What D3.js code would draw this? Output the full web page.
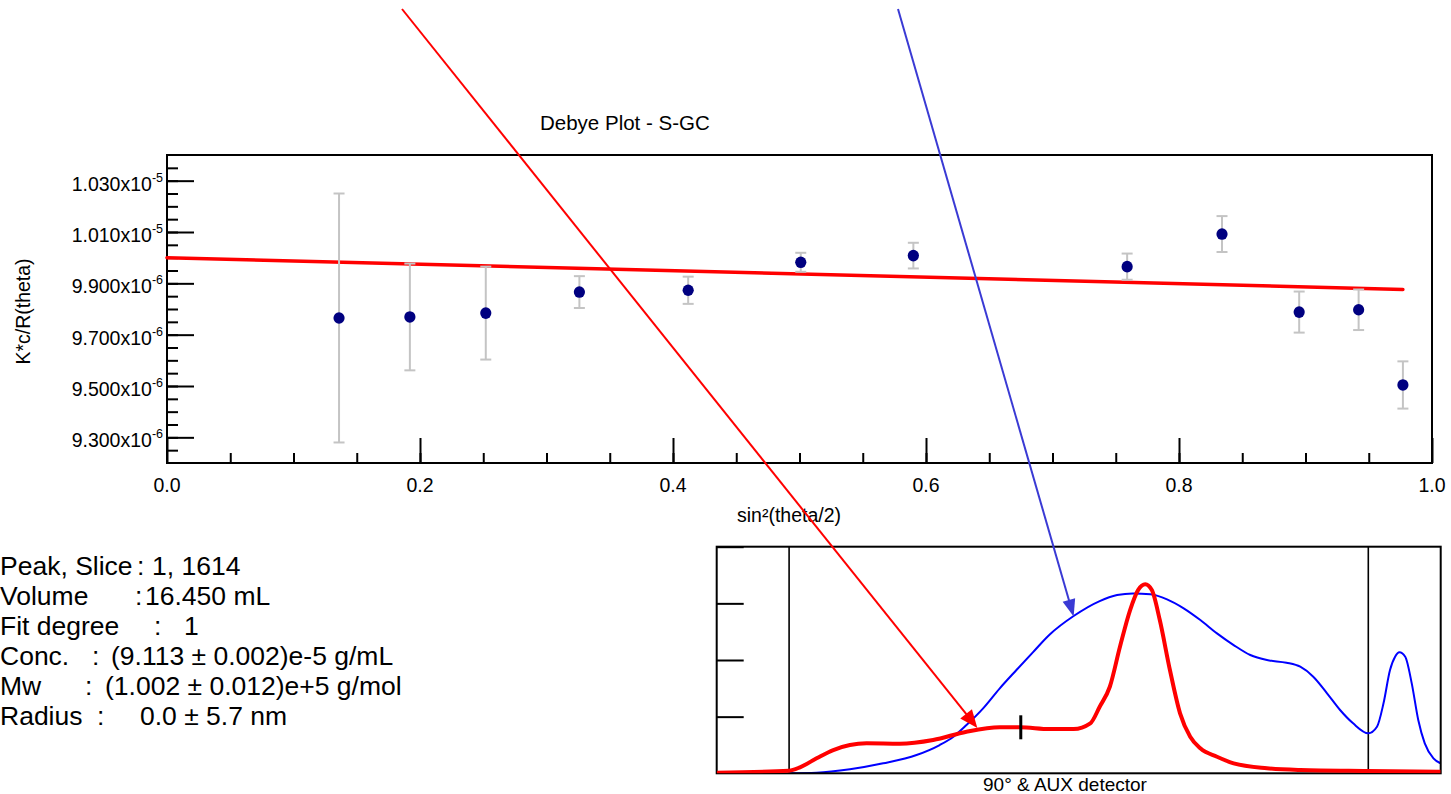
<!DOCTYPE html>
<html>
<head>
<meta charset="utf-8">
<script src="https://cdn.jsdelivr.net/npm/d3@7"></script>
<style>
  html, body { margin: 0; padding: 0; background: #fff; }
  svg { display: block; font-family: "Liberation Sans", Arial, Helvetica, sans-serif; }
</style>
</head>
<body>
<svg id="chart" width="1451" height="794"></svg>
<script>
// ---- Debye plot data: sin²(θ/2) against K*c/R(θ) ----
const sinSq  = [0.136, 0.192, 0.252, 0.326, 0.412, 0.501, 0.590, 0.759, 0.834, 0.895, 0.942, 0.977];
const kcR    = [9.765e-6, 9.769e-6, 9.784e-6, 9.866e-6, 9.873e-6, 9.982e-6, 10.008e-6, 9.965e-6, 10.092e-6, 9.788e-6, 9.797e-6, 9.504e-6];
const kcRErr = [0.485e-6, 0.208e-6, 0.181e-6, 0.062e-6, 0.053e-6, 0.037e-6, 0.050e-6, 0.051e-6, 0.070e-6, 0.080e-6, 0.079e-6, 0.092e-6];

// first-degree fit, evaluated at both ends of the angle range
const fitX = [0, 0.977];
const fitY = [10.000e-6, 9.876e-6];

const yTickValues = [9.3e-6, 9.5e-6, 9.7e-6, 9.9e-6, 1.01e-5, 1.03e-5];
const xTickValues = [0, 0.2, 0.4, 0.6, 0.8, 1.0];

// ---- chromatogram (90° light scattering and AUX detector) ----
const lsVolume = [12.25, 13.25, 13.40, 13.63, 13.86, 14.09, 14.32, 14.78, 15.24, 15.70, 16.16, 16.44, 16.85, 17.18,
                  17.41, 17.54, 17.68, 17.82, 17.96, 18.07, 18.17, 18.26, 18.37, 18.51, 18.65, 18.79, 18.93, 19.16,
                  19.39, 19.85, 20.31, 21.23, 22.25];
const lsSignal = [0.010, 0.046, 0.106, 0.265, 0.411, 0.499, 0.529, 0.522, 0.588, 0.734, 0.812, 0.812, 0.782, 0.782,
                  0.882, 1.175, 1.528, 2.234, 2.882, 3.234, 3.335, 3.234, 2.705, 1.823, 1.059, 0.646, 0.441, 0.293,
                  0.176, 0.088, 0.058, 0.041, 0.028];

const auxVolume = [13.25, 13.63, 14.09, 14.55, 15.01, 15.33, 15.52, 15.70, 15.93, 16.16, 16.39, 16.62, 16.85, 17.18,
                   17.54, 17.78, 18.00, 18.24, 18.47, 18.70, 18.93, 19.16, 19.39, 19.62, 19.85, 20.12, 20.31, 20.49,
                   20.68, 20.86, 21.04, 21.25, 21.37, 21.46, 21.55, 21.62, 21.68, 21.76, 21.85, 21.94, 22.03, 22.15, 22.25];
const auxSignal = [0.000, 0.010, 0.071, 0.176, 0.323, 0.499, 0.646, 0.852, 1.147, 1.500, 1.823, 2.140, 2.450, 2.776,
                   3.040, 3.146, 3.176, 3.159, 3.070, 2.912, 2.705, 2.470, 2.264, 2.088, 1.999, 1.952, 1.881, 1.705,
                   1.412, 1.117, 0.882, 0.706, 0.822, 1.235, 1.823, 2.058, 2.135, 2.058, 1.588, 0.941, 0.529, 0.265, 0.176];

const peakLimits  = [13.25, 21.25];
const sliceVolume = 16.45;
const sliceSignal = 0.812;
const insetTicks  = [1, 2, 3, 4];

// ---- results panel ----
const infoLabels = ["Peak, Slice", "Volume", "Fit degree", "Conc.", "Mw", "Radius"];
const infoValues = ["1, 1614", "16.450 mL", "1", "(9.113 \u00B1 0.002)e-5 g/mL", "(1.002 \u00B1 0.012)e+5 g/mol", "0.0 \u00B1 5.7 nm"];
const infoColonX = [137, 135, 154, 92, 85, 97];
const infoValueX = [152, 145, 184, 111, 105, 140];

const svg = d3.select("#chart");
const FONT = 19.5;

// ================= Debye plot =================
const plot = { left: 167, right: 1432, top: 155, bottom: 463 };
const x = d3.scaleLinear().domain([0, 1]).range([plot.left, plot.right]);
const y = d3.scaleLinear().domain([9.2e-6, 10.4e-6]).range([plot.bottom, plot.top]);

const main = svg.append("g");

// minor ticks
const yMinor = d3.range(1, 24).map(i => 9.2e-6 + i * 0.05e-6);
const xMinor = d3.range(1, 20).map(i => i * 0.05);

function styleAxis(g) {
  g.select(".domain").remove();
  g.selectAll(".tick line").attr("stroke", "#000").attr("stroke-width", 2);
  g.selectAll(".tick text").remove();
}

main.append("g").attr("transform", `translate(${plot.left},0)`)
  .call(d3.axisLeft(y).tickValues(yMinor).tickSize(-11).tickFormat(""))
  .call(styleAxis);
main.append("g").attr("transform", `translate(${plot.left},0)`)
  .call(d3.axisLeft(y).tickValues(yTickValues).tickSize(-27).tickFormat(""))
  .call(styleAxis);
main.append("g").attr("transform", `translate(0,${plot.bottom})`)
  .call(d3.axisBottom(x).tickValues(xMinor).tickSize(-10).tickFormat(""))
  .call(styleAxis);
main.append("g").attr("transform", `translate(0,${plot.bottom})`)
  .call(d3.axisBottom(x).tickValues(xTickValues).tickSize(-25).tickFormat(""))
  .call(styleAxis);

// frame
main.append("rect")
  .attr("x", plot.left).attr("y", plot.top)
  .attr("width", plot.right - plot.left).attr("height", plot.bottom - plot.top)
  .attr("fill", "none").attr("stroke", "#000").attr("stroke-width", 2);

// y tick labels in the "m.mmmx10^e" form
const yLabels = main.append("g").attr("font-size", FONT).attr("fill", "#000");
yTickValues.forEach(v => {
  const e = Math.floor(Math.log10(v) + 1e-9);
  const m = (v / Math.pow(10, e)).toFixed(3);
  const t = yLabels.append("text")
    .attr("x", plot.left - 4).attr("y", y(v) + 10)
    .attr("text-anchor", "end");
  t.append("tspan").text(m + "x10");
  t.append("tspan").attr("dy", -9).attr("font-size", 12.5).text(String(e));
});

// x tick labels
main.append("g").attr("font-size", FONT)
  .selectAll("text").data(xTickValues).join("text")
  .attr("x", d => x(d)).attr("y", 491.5)
  .attr("text-anchor", "middle")
  .text(d => d.toFixed(1));

// axis titles and chart title
main.append("text").attr("x", 737).attr("y", 521.5).attr("font-size", FONT)
  .text("sin\u00B2(theta/2)");
main.append("text").attr("font-size", FONT).attr("text-anchor", "middle")
  .attr("transform", "translate(29.5,311.5) rotate(-90)")
  .text("K*c/R(theta)");
main.append("text").attr("x", 540).attr("y", 129.5).attr("font-size", 20.5)
  .text("Debye Plot - S-GC");

// fit line
main.append("line")
  .attr("x1", x(fitX[0])).attr("y1", y(fitY[0]))
  .attr("x2", x(fitX[1])).attr("y2", y(fitY[1]))
  .attr("stroke", "#ff0000").attr("stroke-width", 3.5).attr("stroke-linecap", "round");

// error bars
const pts = sinSq.map((s, i) => ({ s, v: kcR[i], e: kcRErr[i] }));
const eb = main.append("g").attr("stroke", "#c4c4c4").attr("stroke-width", 2);
pts.forEach(p => {
  const xp = x(p.s);
  eb.append("line").attr("x1", xp).attr("x2", xp).attr("y1", y(p.v + p.e)).attr("y2", y(p.v - p.e));
  eb.append("line").attr("x1", xp - 5.5).attr("x2", xp + 5.5).attr("y1", y(p.v + p.e)).attr("y2", y(p.v + p.e));
  eb.append("line").attr("x1", xp - 5.5).attr("x2", xp + 5.5).attr("y1", y(p.v - p.e)).attr("y2", y(p.v - p.e));
});

// data points
main.append("g").selectAll("ellipse").data(pts).join("ellipse")
  .attr("cx", d => x(d.s)).attr("cy", d => y(d.v))
  .attr("rx", 5.6).attr("ry", 5.8)
  .attr("fill", "#000080");

// ================= results text =================
const info = svg.append("g").attr("font-size", 26.5).attr("fill", "#000");
infoLabels.forEach((lab, i) => {
  const by = 575 + 30 * i;
  info.append("text").attr("x", 0).attr("y", by).text(lab);
  info.append("text").attr("x", infoColonX[i]).attr("y", by).text(":");
  info.append("text").attr("x", infoValueX[i]).attr("y", by).text(infoValues[i]);
});

// ================= chromatogram inset =================
const inset = { left: 716.7, right: 1440.7, top: 546.7, bottom: 773.3 };
const xi = d3.scaleLinear().domain([12.25, 22.25]).range([inset.left, inset.right]);
const yi = d3.scaleLinear().domain([0, 4]).range([inset.bottom, inset.top]);

const ig = svg.append("g");
ig.append("defs").append("clipPath").attr("id", "insetClip")
  .append("rect").attr("x", inset.left).attr("y", inset.top - 2)
  .attr("width", inset.right - inset.left).attr("height", inset.bottom - inset.top + 2);

ig.append("g").attr("transform", `translate(${inset.left},0)`)
  .call(d3.axisLeft(yi).tickValues(insetTicks).tickSize(-27).tickFormat(""))
  .call(styleAxis);

// peak limits
ig.append("g").selectAll("line").data(peakLimits).join("line")
  .attr("x1", d => xi(d)).attr("x2", d => xi(d))
  .attr("y1", inset.top).attr("y2", inset.bottom)
  .attr("stroke", "#000").attr("stroke-width", 1.6);

const lineGen = d3.line().curve(d3.curveMonotoneX);

ig.append("path")
  .attr("d", lineGen(auxVolume.map((v, i) => [xi(v), yi(auxSignal[i])])))
  .attr("fill", "none").attr("stroke", "#0000ff").attr("stroke-width", 2)
  .attr("clip-path", "url(#insetClip)");

ig.append("rect")
  .attr("x", inset.left).attr("y", inset.top)
  .attr("width", inset.right - inset.left).attr("height", inset.bottom - inset.top)
  .attr("fill", "none").attr("stroke", "#000").attr("stroke-width", 2);

ig.append("path")
  .attr("d", lineGen(lsVolume.map((v, i) => [xi(v), yi(lsSignal[i])])))
  .attr("fill", "none").attr("stroke", "#ff0000").attr("stroke-width", 4)
  .attr("stroke-linejoin", "round")
  .attr("clip-path", "url(#insetClip)");

// current slice marker
ig.append("line")
  .attr("x1", xi(sliceVolume)).attr("x2", xi(sliceVolume))
  .attr("y1", yi(sliceSignal) - 12).attr("y2", yi(sliceSignal) + 12)
  .attr("stroke", "#000").attr("stroke-width", 3);

ig.append("text").attr("x", 1065).attr("y", 791).attr("font-size", 19)
  .attr("text-anchor", "middle").text("90\u00B0 & AUX detector");

// ================= pointer arrows =================
const arrows = [
  { from: [402, 9], to: [15.85, 0.80], color: "#ff0000", width: 2, len: 18, half: 7.5 },
  { from: [898, 9], to: [17.18, 2.77], color: "#3a3ad4", width: 2, len: 17, half: 6.5 }
];
const ag = svg.append("g");
arrows.forEach(a => {
  const tx = xi(a.to[0]), ty = yi(a.to[1]);
  const dx = tx - a.from[0], dy = ty - a.from[1];
  const L = Math.hypot(dx, dy), ux = dx / L, uy = dy / L;
  const bx = tx - ux * a.len, by = ty - uy * a.len;
  ag.append("line")
    .attr("x1", a.from[0]).attr("y1", a.from[1]).attr("x2", bx + ux * 2).attr("y2", by + uy * 2)
    .attr("stroke", a.color).attr("stroke-width", a.width);
  ag.append("polygon")
    .attr("points", [[tx, ty], [bx - uy * a.half, by + ux * a.half], [bx + uy * a.half, by - ux * a.half]]
      .map(p => p.join(",")).join(" "))
    .attr("fill", a.color);
});
</script>
</body>
</html>
